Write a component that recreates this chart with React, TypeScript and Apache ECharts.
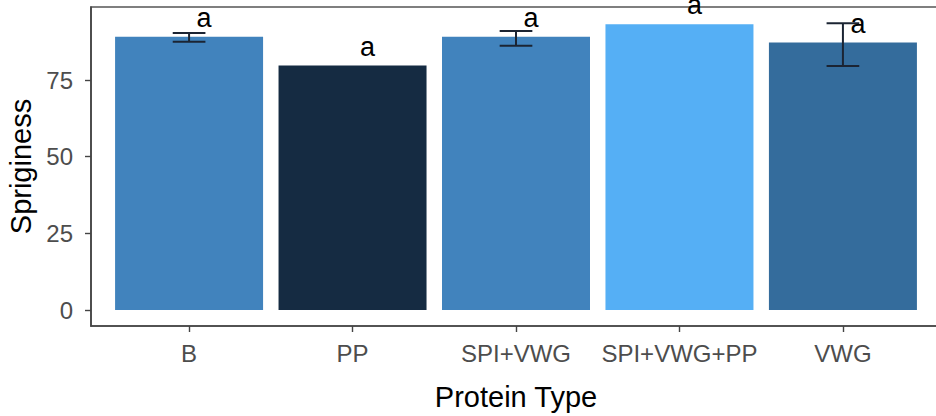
import React, { useEffect, useRef } from "react";
import * as echarts from "echarts";

const categories = ["B", "PP", "SPI+VWG", "SPI+VWG+PP", "VWG"];
const means = [89.1, 79.7, 89.1, 93.2, 87.2];
const errLow: (number | null)[] = [87.5, null, 86.2, null, 79.6];
const errHigh: (number | null)[] = [90.3, null, 91.0, null, 93.5];
const letters = ["a", "a", "a", "a", "a"];
const barColors = ["#4183BD", "#152B42", "#4183BD", "#55AFF5", "#346C9C"];
const yTicks = [0, 25, 50, 75];
const xTicks = categories.map((c, i) => i);

const FONT = "'Liberation Sans', Arial, sans-serif";

export default function App() {
  const ref = useRef<HTMLDivElement>(null);
  useEffect(() => {
    document.body.style.margin = "0";
    if (!ref.current) return;
    const chart = echarts.init(ref.current, null, { renderer: "svg" });
    const errData = categories
      .map((c, i) => [i, errLow[i], errHigh[i]])
      .filter((d) => d[1] !== null && d[2] !== null);
    chart.setOption({
      animation: false,
      backgroundColor: "#ffffff",
      grid: {
        left: 91,
        top: 7,
        width: 850,
        bottom: 90,
        containLabel: false,
        outerBoundsMode: "none",
        show: true,
        borderColor: "#555555",
        borderWidth: 1.6,
        backgroundColor: "transparent",
      },
      xAxis: {
        type: "value",
        min: -0.6,
        max: 4.6,
        axisLine: { show: true, onZero: false, lineStyle: { color: "#444444", width: 1.6 } },
        axisTick: { show: true, customValues: xTicks, length: 6, lineStyle: { color: "#444444", width: 1.4 } },
        axisLabel: {
          customValues: xTicks,
          formatter: (v: number) => categories[Math.round(v)] ?? "",
          color: "#4D4D4D",
          fontSize: 24,
          fontFamily: FONT,
          margin: 15,
        },
        name: "Protein Type",
        nameLocation: "middle",
        nameGap: 56,
        nameTextStyle: { color: "#000000", fontSize: 29, fontFamily: FONT },
        splitLine: { show: false },
      },
      yAxis: {
        type: "value",
        min: -5.2,
        max: 98.8,
        axisLine: { show: true, onZero: false, lineStyle: { color: "#444444", width: 1.6 } },
        axisTick: { show: true, length: 6, customValues: yTicks, lineStyle: { color: "#444444", width: 1.4 } },
        axisLabel: { color: "#4D4D4D", fontSize: 24, fontFamily: FONT, margin: 18, customValues: yTicks },
        splitLine: { show: false },
        name: "Spriginess",
        nameLocation: "middle",
        nameGap: 53,
        nameRotate: 90,
        nameTextStyle: { color: "#000000", fontSize: 29, fontFamily: FONT },
      },
      series: [
        {
          type: "bar",
          barWidth: 148,
          data: means.map((v, i) => ({ value: [i, v], itemStyle: { color: barColors[i] } })),
          z: 2,
        },
        {
          type: "custom",
          data: errData,
          z: 3,
          renderItem: (params: any, api: any) => {
            const x = api.value(0);
            const lo = api.coord([x, api.value(1)]);
            const hi = api.coord([x, api.value(2)]);
            const half = api.size([1, 0])[0] * 0.1;
            const style = { stroke: "#1B2433", lineWidth: 2 };
            return {
              type: "group",
              children: [
                { type: "line", shape: { x1: lo[0], y1: lo[1], x2: hi[0], y2: hi[1] }, style },
                { type: "line", shape: { x1: hi[0] - half, y1: hi[1], x2: hi[0] + half, y2: hi[1] }, style },
                { type: "line", shape: { x1: lo[0] - half, y1: lo[1], x2: lo[0] + half, y2: lo[1] }, style },
              ],
            };
          },
        },
        {
          type: "custom",
          data: means.map((v, i) => [i, v]),
          z: 4,
          renderItem: (params: any, api: any) => {
            const p = api.coord([api.value(0), api.value(1)]);
            return {
              type: "text",
              x: p[0] + 15,
              y: p[1] - 19,
              style: {
                text: letters[params.dataIndex],
                fill: "#000000",
                fontSize: 27,
                fontFamily: FONT,
                align: "center",
                verticalAlign: "middle",
              },
            };
          },
        },
      ],
    });
    return () => chart.dispose();
  }, []);
  return <div ref={ref} style={{ width: 936, height: 416 }} />;
}
